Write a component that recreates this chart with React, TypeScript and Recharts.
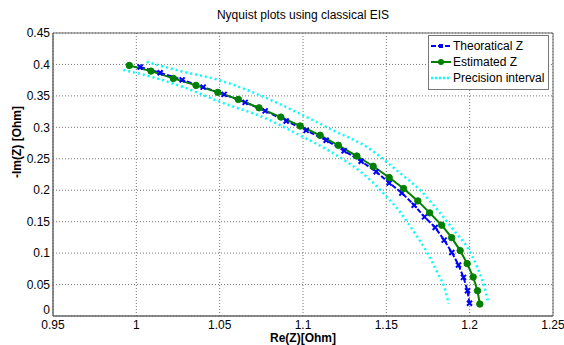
import React from "react";
import {
  LineChart,
  Line,
  XAxis,
  YAxis,
  CartesianGrid,
  ReferenceArea,
} from "recharts";

const xTicks = [0.95, 1, 1.05, 1.1, 1.15, 1.2, 1.25];
const yTicks = [0, 0.05, 0.1, 0.15, 0.2, 0.25, 0.3, 0.35, 0.4, 0.45];

const theoX = [
  1.0023, 1.0143, 1.0275, 1.0401, 1.0527, 1.0653, 1.0773, 1.0899, 1.1019,
  1.1139, 1.1247, 1.1349, 1.1439, 1.1517, 1.1593, 1.1667, 1.1729, 1.1793,
  1.1847, 1.1893, 1.1933, 1.1963, 1.1987, 1.1999,
];
const theoY = [
  0.396, 0.3868, 0.3754, 0.364, 0.3524, 0.3397, 0.3262, 0.31, 0.2952, 0.2794,
  0.2627, 0.246, 0.2294, 0.2116, 0.1957, 0.1762, 0.1576, 0.1408, 0.1206,
  0.1011, 0.081, 0.0614, 0.0402, 0.0202,
];

const estX = [
  0.9958, 1.0088, 1.0222, 1.0358, 1.0489, 1.0612, 1.0736, 1.0867, 1.0983,
  1.1103, 1.1212, 1.1323, 1.1421, 1.1517, 1.1603, 1.1689, 1.176, 1.1832,
  1.1892, 1.1943, 1.1985, 1.2021, 1.2047, 1.2061,
];
const estY = [
  0.3984, 0.3894, 0.3778, 0.3667, 0.3556, 0.3444, 0.331, 0.3163, 0.3021,
  0.2873, 0.2714, 0.2544, 0.2381, 0.2202, 0.2027, 0.183, 0.164, 0.1444,
  0.1246, 0.104, 0.0833, 0.0619, 0.0402, 0.019,
];

const upX = [
  1.0062, 1.0262, 1.0502, 1.0743, 1.1013, 1.1181, 1.1385, 1.1583, 1.1703,
  1.1823, 1.1919, 1.1985, 1.2045, 1.2081, 1.2113,
];
const upY = [
  0.404, 0.3897, 0.3746, 0.3508, 0.3175, 0.2952, 0.2683, 0.227, 0.2, 0.1635,
  0.1317, 0.1095, 0.0778, 0.0524, 0.0206,
];

const loX = [
  0.9922, 1.0102, 1.0303, 1.0502, 1.0762, 1.0993, 1.1182, 1.1383, 1.1503,
  1.1583, 1.1663, 1.1743, 1.1805, 1.1853, 1.1874,
];
const loY = [
  0.3913, 0.3794, 0.3619, 0.3405, 0.3159, 0.2857, 0.2587, 0.2211, 0.1894,
  0.1651, 0.1349, 0.1016, 0.0698, 0.0413, 0.0198,
];

const zip = (xs: number[], ys: number[]) => xs.map((x, i) => ({ x, y: ys[i] }));

const theoData = zip(theoX, theoY);
const estData = zip(estX, estY);
const upData = zip(upX, upY);
const loData = zip(loX, loY);

const FONT = "'Liberation Sans', Arial, sans-serif";
const fmt = (v: number) => String(Number(v.toFixed(2)));

const CrossDot = (props: any) => {
  const { cx, cy, index } = props;
  if (cx == null || cy == null) return null;
  const s = 2.5;
  return (
    <path
      key={`t-${index}`}
      d={`M${cx - s},${cy - s}L${cx + s},${cy + s}M${cx - s},${cy + s}L${cx + s},${cy - s}`}
      stroke="#0000ff"
      strokeWidth={2}
    />
  );
};

// y tick labels; the "0" sits a little higher so it clears the 0.95 label
const YTick = (props: any) => {
  const { x, y, payload } = props;
  const v = payload.value as number;
  return (
    <text
      x={x}
      y={v === 0 ? y - 6 : y}
      dy="0.355em"
      textAnchor="end"
      fontSize={12}
      fontFamily={FONT}
      fill="#000"
    >
      {fmt(v)}
    </text>
  );
};

function LegendBox() {
  const row = { display: "flex", alignItems: "center", height: 16 };
  return (
    <div
      style={{
        position: "absolute",
        left: 428,
        top: 35,
        width: 121,
        height: 55,
        border: "1px solid #777",
        background: "#fff",
        fontFamily: FONT,
        fontSize: 12,
        padding: "2px 0 0 2px",
        boxSizing: "border-box",
      }}
    >
      <div style={row}>
        <svg width={20} height={10}>
          <line x1={0} y1={5} x2={20} y2={5} stroke="#0000ff" strokeWidth={2} strokeDasharray="5 2" />
          <rect x={8} y={3} width={4} height={4} fill="#0000ff" />
        </svg>
        <span style={{ marginLeft: 2 }}>Theoratical Z</span>
      </div>
      <div style={row}>
        <svg width={20} height={10}>
          <line x1={0} y1={5} x2={20} y2={5} stroke="#008000" strokeWidth={2} />
          <circle cx={10} cy={5} r={3} fill="#008000" />
        </svg>
        <span style={{ marginLeft: 2 }}>Estimated Z</span>
      </div>
      <div style={row}>
        <svg width={20} height={10}>
          <line x1={0} y1={5} x2={20} y2={5} stroke="#00ffff" strokeWidth={2.5} strokeDasharray="2 2" />
        </svg>
        <span style={{ marginLeft: 2 }}>Precision interval</span>
      </div>
    </div>
  );
}

export default function App() {
  return (
    <div
      style={{
        position: "absolute",
        left: 0,
        top: 0,
        width: 564,
        height: 345,
        background: "#fff",
        fontFamily: FONT,
      }}
    >
      <div
        style={{
          position: "absolute",
          top: 8,
          left: 53,
          width: 500,
          textAlign: "center",
          fontSize: 12,
        }}
      >
        Nyquist plots using classical EIS
      </div>
      <LineChart
        width={564}
        height={345}
        margin={{ top: 33, right: 11, bottom: 0, left: 0 }}
      >
        <CartesianGrid stroke="#777" strokeDasharray="1 2" />
        <XAxis
          type="number"
          dataKey="x"
          domain={[0.95, 1.25]}
          ticks={xTicks}
          tickFormatter={fmt}
          allowDataOverflow
          height={29}
          tickSize={0}
          tickMargin={4}
          stroke="#666"
          tick={{ fill: "#000", fontSize: 12, fontFamily: FONT }}
          label={(p: any) => (
            <text
              x={303}
              y={342}
              textAnchor="middle"
              fontSize={12}
              fontWeight="bold"
              fontFamily={FONT}
              fill="#000"
            >
              Re(Z)[Ohm]
            </text>
          )}
        />
        <YAxis
          type="number"
          dataKey="y"
          domain={[0, 0.45]}
          ticks={yTicks}
          allowDataOverflow
          width={53}
          tickSize={0}
          tickMargin={3}
          stroke="#666"
          tick={<YTick />}
          label={(p: any) => (
            <text
              x={21}
              y={142}
              transform="rotate(-90 21 142)"
              textAnchor="middle"
              fontSize={12}
              fontWeight="bold"
              fontFamily={FONT}
              fill="#000"
            >
              -Im(Z) [Ohm]
            </text>
          )}
        />
        <ReferenceArea
          x1={0.95}
          x2={1.25}
          y1={0}
          y2={0.45}
          fill="none"
          stroke="#666"
          strokeWidth={1}
          ifOverflow="visible"
        />
        <Line
          data={upData}
          dataKey="y"
          type="monotone"
          stroke="#00ffff"
          strokeWidth={2.5}
          strokeDasharray="2 3"
          dot={false}
          isAnimationActive={false}
        />
        <Line
          data={loData}
          dataKey="y"
          type="monotone"
          stroke="#00ffff"
          strokeWidth={2.5}
          strokeDasharray="2 3"
          dot={false}
          isAnimationActive={false}
        />
        <Line
          data={theoData}
          dataKey="y"
          type="linear"
          stroke="#0000ff"
          strokeWidth={2}
          strokeDasharray="5 2"
          dot={CrossDot}
          isAnimationActive={false}
        />
        <Line
          data={estData}
          dataKey="y"
          type="linear"
          stroke="#008000"
          strokeWidth={2}
          dot={{ r: 3.2, fill: "#008000", stroke: "#008000", strokeWidth: 1 }}
          isAnimationActive={false}
        />
      </LineChart>
      <LegendBox />
    </div>
  );
}
